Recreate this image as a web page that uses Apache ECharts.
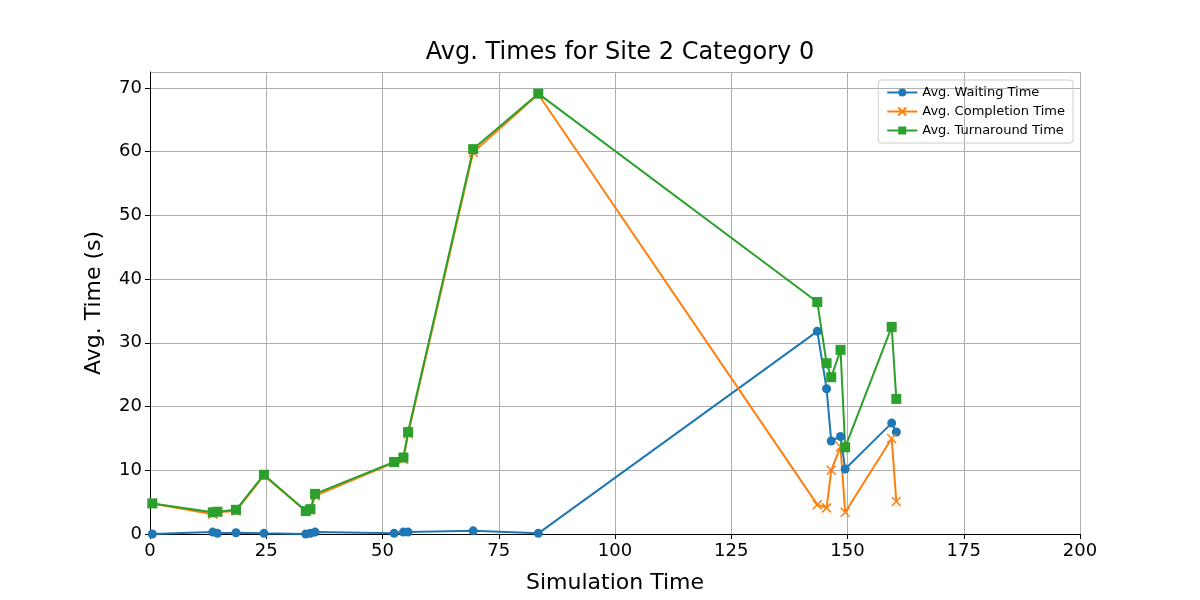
<!DOCTYPE html>
<html><head><meta charset="utf-8">
<script src="https://cdn.jsdelivr.net/npm/echarts@6/dist/echarts.min.js"></script>
<style>html,body{margin:0;background:#fff}#c{width:1200px;height:600px}</style>
</head><body><div id="c"></div>
<script>
var simTime = [0.5, 13.5, 14.5, 18.5, 24.5, 33.5, 34.5, 35.5, 52.5, 54.5, 55.5, 69.5, 83.5, 143.5, 145.5, 146.5, 148.5, 149.5, 159.5, 160.5]
var waiting = [0.0, 0.3, 0.1, 0.2, 0.1, 0.0, 0.1, 0.3, 0.1, 0.3, 0.3, 0.5, 0.1, 31.8, 22.8, 14.6, 15.3, 10.2, 17.4, 16.0]
var completion = [4.8, 3.1, 3.4, 3.6, 9.2, 3.6, 3.8, 6.0, 11.2, 11.7, 15.7, 59.9, 69.0, 4.6, 4.1, 10.0, 13.7, 3.4, 15.0, 5.1]
var turnaround = [4.8, 3.4, 3.5, 3.8, 9.3, 3.6, 3.9, 6.3, 11.3, 12.0, 16.0, 60.4, 69.1, 36.4, 26.8, 24.6, 28.9, 13.6, 32.5, 21.2]

function pairs(vals) { return simTime.map((t, i) => [t, vals[i]]) }

var chart = echarts.init(document.getElementById('c'))
var font = 'DejaVu Sans'
var axisLine = { show: true, lineStyle: { color: '#000', width: 1 } }

var option = {
  animation: false,
  textStyle: { fontFamily: font },
  title: {
    text: 'Avg. Times for Site 2 Category 0',
    left: 615, top: 36, textAlign: 'center',
    textStyle: { fontSize: 24, fontWeight: 'normal', color: '#000', fontFamily: font }
  },
  legend: {
    orient: 'vertical', right: 127, top: 80,
    itemGap: 6, itemWidth: 30, itemHeight: 10,
    borderColor: '#ccc', borderWidth: 1, borderRadius: 3, padding: [6, 8],
    textStyle: { fontSize: 13, color: '#000' }
  },
  grid: { left: 150, right: 120, top: 72, bottom: 66 },
  xAxis: {
    type: 'value', min: 0, max: 200, interval: 25,
    name: 'Simulation Time', nameLocation: 'middle', nameGap: 38,
    nameTextStyle: { fontSize: 22, color: '#000' },
    axisLine: axisLine, axisTick: { show: true, length: 5, lineStyle: { color: '#000' } },
    axisLabel: { fontSize: 18, color: '#000' },
    splitLine: { show: true, lineStyle: { color: '#b0b0b0' } }
  },
  yAxis: {
    type: 'value', min: 0, max: 72.5, interval: 10,
    name: 'Avg. Time (s)', nameLocation: 'middle', nameGap: 45,
    nameTextStyle: { fontSize: 22, color: '#000' },
    axisLine: axisLine, axisTick: { show: true, length: 5, lineStyle: { color: '#000' } },
    axisLabel: { fontSize: 18, color: '#000', showMaxLabel: false },
    splitLine: { show: true, lineStyle: { color: '#b0b0b0' } }
  },
  series: [
    { name: 'Avg. Waiting Time', type: 'line', data: pairs(waiting), symbol: 'circle', symbolSize: 9,
      color: '#1f77b4', lineStyle: { width: 2 } },
    { name: 'Avg. Completion Time', type: 'line', data: pairs(completion),
      symbol: 'path://M0,0L10,10M10,0L0,10', symbolSize: 9,
      color: '#ff7f0e', lineStyle: { width: 2 }, itemStyle: { borderColor: '#ff7f0e', borderWidth: 1.5 } },
    { name: 'Avg. Turnaround Time', type: 'line', data: pairs(turnaround), symbol: 'rect', symbolSize: 10,
      color: '#2ca02c', lineStyle: { width: 2 } }
  ]
}

option && chart.setOption(option)
</script></body></html>
